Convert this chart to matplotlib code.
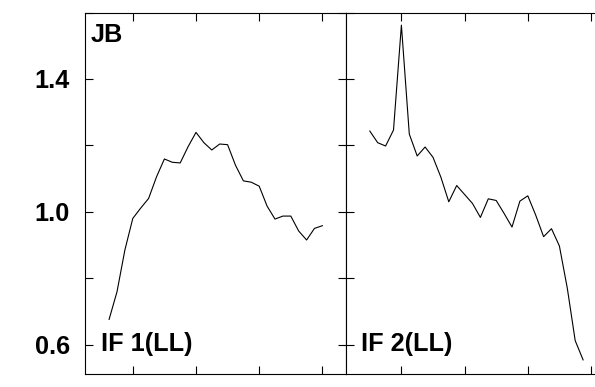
import matplotlib
matplotlib.use("Agg")
import matplotlib.pyplot as plt

plt.rcParams['font.family'] = ['Liberation Sans', 'DejaVu Sans']
plt.rcParams['font.weight'] = 'bold'

# channel index and amplitude for each IF panel
channels = list(range(28))
if1_ll = [0.676, 0.759, 0.885, 0.980, 1.011, 1.040, 1.105, 1.159, 1.149, 1.147,
          1.196, 1.239, 1.208, 1.186, 1.204, 1.202, 1.140, 1.093, 1.089, 1.077,
          1.017, 0.978, 0.987, 0.987, 0.942, 0.915, 0.950, 0.958]
if2_ll = [1.243, 1.208, 1.198, 1.246, 1.562, 1.234, 1.168, 1.195, 1.164, 1.104,
          1.030, 1.079, 1.052, 1.025, 0.983, 1.039, 1.034, 0.995, 0.954, 1.032,
          1.048, 0.990, 0.925, 0.949, 0.897, 0.770, 0.612, 0.554]

panel_labels = ["IF 1(LL)", "IF 2(LL)"]
station = "JB"
left_xticks = [3, 11, 19, 27]
right_xticks = [4, 12, 20, 28]
yticks = [0.6, 0.8, 1.0, 1.2, 1.4, 1.6]
ytick_labels = ["0.6", "", "1.0", "", "1.4", ""]

W, H = 595, 387
fig = plt.figure(figsize=(W / 100, H / 100), dpi=100)

x0, top, bot, pw = 85, 12.5, 373.5, 260.7
ax1 = fig.add_axes([x0 / W, (H - bot) / H, pw / W, (bot - top) / H])
ax2 = fig.add_axes([(x0 + pw) / W, (H - bot) / H, pw / W, (bot - top) / H])

fs = 18.2
for ax, y, lab, xt in [(ax1, if1_ll, panel_labels[0], left_xticks),
                       (ax2, if2_ll, panel_labels[1], right_xticks)]:
    ax.plot(channels, y, color="black", lw=0.8)
    ax.set_xlim(-3.05, 29.95)
    ax.set_ylim(0.513, 1.6)
    ax.set_xticks(xt)
    ax.set_xticklabels([])
    ax.set_yticks(yticks)
    ax.tick_params(direction="in", length=6, width=0.8, top=True, right=True,
                   color="black")
    for s in ax.spines.values():
        s.set_linewidth(0.8)
    ax.text(0.06, 0.0623, lab, transform=ax.transAxes, fontsize=fs,
            fontweight="bold", va="baseline", ha="left")

ax1.set_yticklabels(ytick_labels, fontsize=fs, fontweight="bold")
ax1.tick_params(axis="y", pad=11)
ax2.set_yticklabels([])
ax1.text(0.022, 0.918, station, transform=ax1.transAxes, fontsize=fs,
         fontweight="bold", va="baseline", ha="left")

fig.savefig("out.png", dpi=100)
